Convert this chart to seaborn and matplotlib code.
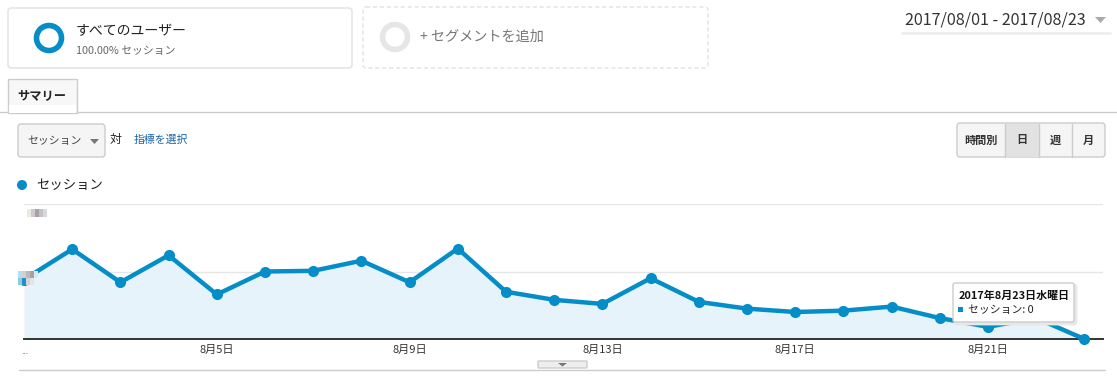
import matplotlib
matplotlib.use("Agg")
import matplotlib.pyplot as plt
import seaborn as sns
import pandas as pd
from matplotlib.patches import FancyBboxPatch, Rectangle, Circle, Polygon

# ---- data ----
days = list(range(1, 24))
sessions = [88, 133, 84, 124, 66, 100, 101, 116, 84, 134, 70, 58, 52, 90,
            55, 45, 40, 42, 48, 31, 18, 31, 0]
tick_days = [5, 9, 13, 17, 21]
tick_labels = ["8月5日", "8月9日", "8月13日", "8月17日", "8月21日"]
y_ticks = [0, 100, 200]
series_name = "セッション"
date_range = "2017/08/01 - 2017/08/23"
tooltip_title = "2017年8月23日水曜日"
tooltip_value = "セッション: 0"

sns.set_theme(style="white")
plt.rcParams['font.family'] = ['Noto Sans CJK JP', 'DejaVu Sans']

W, H = 1117, 379
fig = plt.figure(figsize=(W / 100, H / 100), dpi=100)
fig.patch.set_facecolor("white")

BLUE = "#058DC7"

# ---- chart axes ----
left_px, right_px, top_px, bot_px = 24, 1103, 204, 339
ax = fig.add_axes([left_px / W, (H - bot_px) / H, (right_px - left_px) / W, (bot_px - top_px) / H])
ax.set_zorder(2)
df = pd.DataFrame({"day": days, "sessions": sessions})
ax.fill_between(df["day"], df["sessions"], 0, color="#E6F3FA", lw=0, zorder=1)
sns.lineplot(data=df, x="day", y="sessions", ax=ax, color=BLUE, lw=3.2,
             marker="o", markersize=8, markeredgewidth=0, clip_on=False, zorder=3)
ax.set_xlim(1, 1 + (right_px - left_px) / 48.2)
ax.set_ylim(0, 200)
ax.set_yticks(y_ticks)
ax.set_yticklabels([])
ax.grid(axis="y", color="#E6E6E6", lw=1)
ax.grid(axis="x", visible=False)
ax.set_xticks(tick_days)
ax.set_xticklabels(tick_labels, fontsize=8.0, color="#333333")
ax.tick_params(axis="both", length=0, pad=4)
ax.set_xlabel("")
ax.set_ylabel("")
for s in ["top", "right", "left"]:
    ax.spines[s].set_visible(False)
ax.spines["bottom"].set_color("#333333")
ax.spines["bottom"].set_linewidth(1.4)
ax.set_facecolor("none")

# ---- overlay for UI elements ----
ov = fig.add_axes([0, 0, 1, 1])
ov.set_zorder(3)
ov.set_xlim(0, W)
ov.set_ylim(H, 0)
ov.axis("off")


def rbox(x0, y0, x1, y1, ec="#DDDDDD", fc="white", ls="-", r=3, lw=1.0, z=1):
    p = FancyBboxPatch((x0, y0), x1 - x0, y1 - y0,
                       boxstyle=f"round,pad=0,rounding_size={r}",
                       ec=ec, fc=fc, ls=ls, lw=lw, zorder=z)
    ov.add_patch(p)
    return p


# segment boxes
rbox(8, 8, 352, 68, ec="#E0E0E0")
ov.add_patch(Circle((49, 38), 12.5, fill=False, ec=BLUE, lw=4.0))
ov.text(76, 31, "すべてのユーザー", fontsize=10.0, color="#222222", va="center")
ov.text(76, 51, "100.00% セッション", fontsize=7.8, color="#666666", va="center")

rbox(363, 7, 708, 68, ec="#E2E2E2", ls=(0, (3, 2)))
ov.add_patch(Circle((395, 37), 12.5, fill=False, ec="#E6E6E6", lw=4.0))
ov.text(420, 37, "+ セグメントを追加", fontsize=10.2, color="#777777", va="center")

# date range
ov.text(905, 20, date_range, fontsize=11.6, color="#333333", va="center")
ov.add_patch(Polygon([[1095, 17], [1106, 17], [1100.5, 23]], fc="#AAAAAA", ec="none"))
ov.plot([902, 1110], [33, 33], color="#EEEEEE", lw=2)

# tab
ov.plot([0, 8], [112, 112], color="#CCCCCC", lw=1)
ov.plot([77, W], [112, 112], color="#CCCCCC", lw=1)
ov.add_patch(Rectangle((8, 79), 69, 34, fc="#F7F7F7", ec="#CCCCCC", lw=1))
ov.add_patch(Rectangle((8.6, 105), 67.8, 8, fc="white", ec="none"))
ov.text(42, 96, "サマリー", fontsize=8.8, fontweight="bold", color="#222222",
        ha="center", va="center")

# dropdown
rbox(18, 124, 105, 157, ec="#CCCCCC", fc="#F5F5F5", r=3)
ov.text(27, 141, "セッション", fontsize=7.8, color="#444444", va="center")
ov.add_patch(Polygon([[90, 139], [99, 139], [94.5, 144]], fc="#777777", ec="none"))
ov.text(110, 139, "対", fontsize=8.6, color="#222222", va="center")
ov.text(134, 140, "指標を選択", fontsize=7.8, color="#1A63A8", va="center")

# buttons
rbox(957, 123, 1105, 157, ec="#CCCCCC", fc="#F5F5F5", r=3)
ov.add_patch(Rectangle((1005, 123.5), 34, 33, fc="#E2E2E2", ec="none"))
for xx in [1005, 1039, 1072]:
    ov.plot([xx, xx], [123.5, 156.5], color="#CCCCCC", lw=1)
for cx, lab in [(981, "時間別"), (1022, "日"), (1055.5, "週"), (1088.5, "月")]:
    ov.text(cx, 140, lab, fontsize=8.0, fontweight="bold", color="#333333",
            ha="center", va="center")

# legend
ov.add_patch(Circle((22, 185), 5, fc=BLUE, ec="none"))
ov.text(36, 185, series_name, fontsize=9.6, color="#222222", va="center")

# blurred y-axis labels (mosaic)
for i, c in enumerate(["#EDE9E3", "#CFC9CD", "#A9A1A8", "#C4C0C4", "#D8D8DA"]):
    ov.add_patch(Rectangle((27 + i * 4, 209), 4, 8, fc=c, ec="none"))
for i, c in enumerate(["#B5DDF0", "#D0D0D0", "#BDB8BA", "#A8A0A4", "#DDE6EC"]):
    ov.add_patch(Rectangle((18 + i * 4, 271), 4, 7, fc=c, ec="none"))
for i, c in enumerate(["#8FC9E6", "#1E92CC", "#D5D3D3", "#E4E4E4", "#E6F3FA"]):
    ov.add_patch(Rectangle((18 + i * 4, 278), 4, 7, fc=c, ec="none"))
ov.text(21, 352, "...", fontsize=6, color="#555555", va="center")

# bottom line & handle
ov.plot([19, 1105], [370, 370], color="#CCCCCC", lw=1)
rbox(538, 361, 587, 368, ec="#CCCCCC", fc="#EEEEEE", r=1)
ov.add_patch(Polygon([[558, 363], [567, 363], [562.5, 366.5]], fc="#777777", ec="none"))

# tooltip
rbox(955, 285, 1076, 324, ec="#E8E8E8", fc="#E8E8E8", r=2, lw=2, z=4)
rbox(953, 283, 1074, 322, ec="#CCCCCC", fc="white", r=2, z=5)
ov.text(959, 296, tooltip_title, fontsize=7.9, fontweight="bold", color="#111111",
        va="center", zorder=6)
ov.add_patch(Rectangle((958, 307), 5, 5, fc=BLUE, ec="none", zorder=6))
ov.text(968, 310, tooltip_value, fontsize=7.8, color="#222222", va="center", zorder=6)

fig.savefig("out.png", dpi=100)
